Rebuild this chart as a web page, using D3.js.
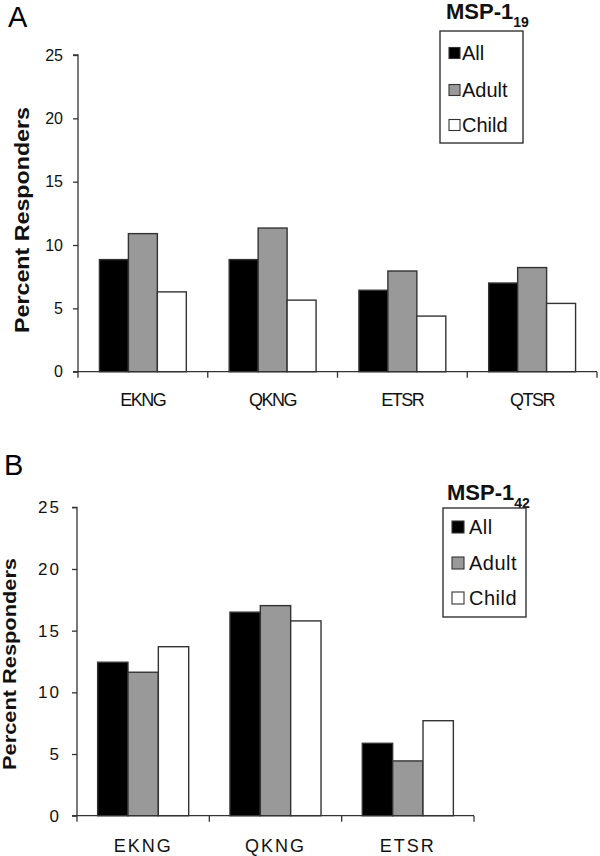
<!DOCTYPE html>
<html><head><meta charset="utf-8">
<script src="https://cdn.jsdelivr.net/npm/d3@7"></script>
<style>body{margin:0;background:#fff}svg{display:block;font-family:"Liberation Sans",Arial,sans-serif}</style>
</head><body>
<svg id="c" width="600" height="856"></svg>
<script>
const seriesNames = ["All","Adult","Child"];
const seriesColors = ["#000000","#999999","#ffffff"];
const categoriesA = ["EKNG","QKNG","ETSR","QTSR"];
const allA   = [8.85, 8.85, 6.43, 7.0];
const adultA = [10.9, 11.34, 7.95, 8.22];
const childA = [6.3, 5.65, 4.39, 5.39];
const categoriesB = ["EKNG","QKNG","ETSR"];
const allB   = [12.44, 16.5, 5.87];
const adultB = [11.63, 17.03, 4.44];
const childB = [13.7, 15.79, 7.7];
const yTicks = [0,5,10,15,20,25];

const svg = d3.select("#c");

function panel(cfg){
  const g = svg.append("g");
  const x = d3.scaleBand().domain(cfg.cats).range([cfg.x0, cfg.x1]).paddingInner(0).paddingOuter(0);
  const xs = d3.scaleBand().domain(seriesNames).range([0, x.bandwidth()]).paddingOuter(cfg.pad).paddingInner(0);
  const y = d3.scaleLinear().domain([0,25]).range([cfg.y0, cfg.y25]);
  const series = [cfg.all, cfg.adult, cfg.child];

  cfg.cats.forEach((c,i)=>{
    seriesNames.forEach((s,j)=>{
      g.append("rect")
        .attr("x", x(c)+xs(s)).attr("width", xs.bandwidth())
        .attr("y", y(series[j][i])).attr("height", y(0)-y(series[j][i]))
        .attr("fill", seriesColors[j]).attr("stroke","#333").attr("stroke-width",1.4);
    });
  });

  const ya = g.append("g").attr("transform",`translate(${cfg.x0},0)`)
    .call(d3.axisLeft(y).tickValues(yTicks).tickSize(5).tickPadding(cfg.tp));
  ya.selectAll("path,line").attr("stroke","#333").attr("stroke-width",1.3);
  ya.select(".domain").attr("d",`M-5,${y(25)}H0V${y(0)}`);
  ya.selectAll("text").attr("font-size",cfg.yfs).attr("fill","#111")
    .attr("letter-spacing",cfg.yls).attr("font-family","Liberation Sans, Arial, sans-serif");

  const bounds = cfg.cats.map(c=>x(c)).concat([cfg.x1]);
  g.append("line").attr("x1",cfg.x0-5).attr("x2",cfg.x1).attr("y1",y(0)).attr("y2",y(0)).attr("stroke","#333").attr("stroke-width",1.3);
  bounds.forEach(b=>{
    g.append("line").attr("x1",b).attr("x2",b).attr("y1",y(0)).attr("y2",y(0)+6).attr("stroke","#333").attr("stroke-width",1.3);
  });
  cfg.cats.forEach(c=>{
    g.append("text").attr("x", x(c)+x.bandwidth()/2).attr("y", cfg.xlabY)
      .attr("text-anchor","middle").attr("font-size",cfg.xfs).attr("fill","#111")
      .attr("letter-spacing", cfg.xls).text(c);
  });

  g.append("text").attr("transform",`translate(${cfg.ytX},${cfg.ytY}) rotate(-90)`)
    .attr("text-anchor","middle").attr("font-size",cfg.ytfs).attr("font-weight","bold").attr("fill","#111")
    .attr("textLength",cfg.ytLen).attr("lengthAdjust","spacingAndGlyphs")
    .text("Percent Responders");

  g.append("text").attr("x",cfg.letX).attr("y",cfg.letY).attr("font-size",29).attr("fill","#000").text(cfg.letter);

  const L = cfg.leg;
  const t = g.append("text").attr("x",L.tx).attr("y",L.ty).attr("font-size",22).attr("font-weight","bold").attr("fill","#111");
  t.append("tspan").text("MSP-1");
  t.append("tspan").attr("dy",8).attr("font-size",14).text(L.sub);
  g.append("rect").attr("x",L.x).attr("y",L.y).attr("width",L.w).attr("height",L.h)
    .attr("fill","#fff").attr("stroke","#333").attr("stroke-width",1.4);
  seriesNames.forEach((s,j)=>{
    const cy = L.items[j];
    g.append("rect").attr("x",L.x+9).attr("y",cy-L.sw/2).attr("width",L.sw).attr("height",L.sw)
      .attr("fill",seriesColors[j]).attr("stroke","#333").attr("stroke-width",1.1);
    g.append("text").attr("x",L.x+L.tdx).attr("y",cy+7).attr("font-size",20).attr("fill","#111")
      .attr("letter-spacing",L.ls).text(s);
  });
}

panel({cats:categoriesA, all:allA, adult:adultA, child:childA,
  x0:78, x1:597, y0:371.7, y25:55, pad:0.74, xlabY:406, xfs:18, xls:-1.5,
  yfs:16, yls:0, tp:10,
  ytX:29, ytY:220, ytfs:20, ytLen:226,
  letter:"A", letX:8, letY:27,
  leg:{tx:446, ty:19, sub:"19", x:440, y:31, w:83, h:112, items:[53,90,125], sw:11, tdx:22, ls:0}});

panel({cats:categoriesB, all:allB, adult:adultB, child:childB,
  x0:77, x1:474, y0:815.7, y25:507.3, pad:0.68, xlabY:852, xfs:18, xls:2,
  yfs:17, yls:2, tp:11,
  ytX:16, ytY:664, ytfs:18, ytLen:212,
  letter:"B", letX:4, letY:475,
  leg:{tx:447, ty:500, sub:"42", x:443, y:508, w:83, h:109, items:[527,563,598], sw:12, tdx:26, ls:0.5}});
</script>
</body></html>
